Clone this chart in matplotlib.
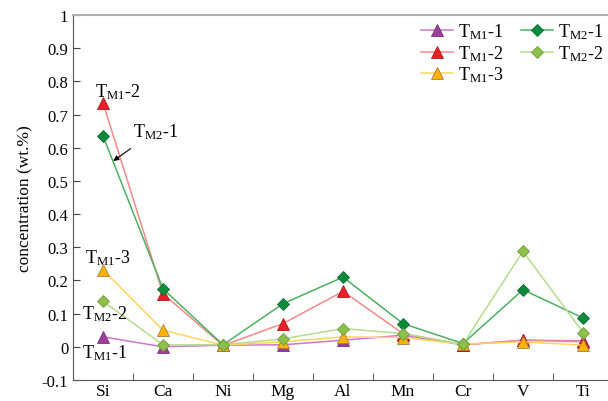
import matplotlib
matplotlib.use("Agg")
import matplotlib.pyplot as plt

plt.rcParams['font.family'] = ['Liberation Serif', 'DejaVu Serif']
plt.rcParams['mathtext.fontset'] = 'custom'
plt.rcParams['mathtext.rm'] = 'Liberation Serif'
plt.rcParams['mathtext.it'] = 'Liberation Serif:italic'

elements = ['Si', 'Ca', 'Ni', 'Mg', 'Al', 'Mn', 'Cr', 'V', 'Ti']
tm1_1 = [0.030, 0.000, 0.005, 0.006, 0.020, 0.035, 0.006, 0.020, 0.018]
tm1_2 = [0.735, 0.160, 0.004, 0.070, 0.167, 0.040, 0.006, 0.020, 0.015]
tm1_3 = [0.232, 0.050, 0.005, 0.015, 0.030, 0.028, 0.008, 0.015, 0.005]
tm2_1 = [0.636, 0.175, 0.006, 0.130, 0.210, 0.070, 0.010, 0.172, 0.087]
tm2_2 = [0.137, 0.006, 0.006, 0.024, 0.055, 0.040, 0.008, 0.288, 0.043]

labels = [r'T$_{\mathrm{M1}}$-1', r'T$_{\mathrm{M1}}$-2', r'T$_{\mathrm{M1}}$-3',
          r'T$_{\mathrm{M2}}$-1', r'T$_{\mathrm{M2}}$-2']

fig = plt.figure(figsize=(6.08, 4.02), dpi=100)
ax = fig.add_axes([73/608, 1 - 381/402, 540/608, (381 - 16)/402])

x = list(range(len(elements)))
series = [
    (tm1_1, labels[0], '^', '#9b3f9b', '#cc77cc', '#7a2f7a', 9),
    (tm1_2, labels[1], '^', '#e8202a', '#f08a8a', '#b01818', 9),
    (tm1_3, labels[2], '^', '#ffb300', '#ffd45e', '#a08040', 9),
    (tm2_1, labels[3], 'D', '#0e8a3c', '#4cb060', '#0a6a2c', 6.5),
    (tm2_2, labels[4], 'D', '#8dc04a', '#b5dc8e', '#6f9a38', 6.5),
]
handles = []
for vals, lab, m, fc, lc, ec, ms in series:
    h, = ax.plot(x, vals, color=lc, lw=1.1, marker=m, ms=ms, mfc=fc, mec=ec,
                 mew=0.6, label=lab)
    handles.append(h)

ax.set_xlim(-0.5, 8.5)
ax.set_ylim(-0.1, 1.0)
ax.set_yticks([-0.1, 0, 0.1, 0.2, 0.3, 0.4, 0.5, 0.6, 0.7, 0.8, 0.9, 1.0])
ax.set_yticklabels(['-0.1', '0', '0.1', '0.2', '0.3', '0.4', '0.5', '0.6', '0.7',
                    '0.8', '0.9', '1'])
ax.set_xticks(x)
ax.set_xticklabels(elements, fontsize=12.5)
ax.set_xticks([i + 0.5 for i in range(8)], minor=True)
ax.tick_params(axis='x', which='major', length=0, pad=2)
ax.tick_params(axis='x', which='minor', direction='in', length=5, color='#444444')
ax.tick_params(axis='y', direction='in', length=5, labelsize=12, color='#444444')
ax.set_ylabel('concentration (wt.%)', fontsize=12.5, labelpad=6)

ax.spines['top'].set_color('#b0b0b0')
ax.spines['top'].set_linewidth(1.5)
ax.spines['right'].set_visible(False)
ax.spines['left'].set_color('#555555')
ax.spines['bottom'].set_color('#555555')

leg = ax.legend(handles, labels, ncol=2, loc='upper left',
                bbox_to_anchor=(421/608, 1 - 22/402), bbox_transform=fig.transFigure,
                frameon=False, fontsize=13, handlelength=1.75, handletextpad=0.3,
                columnspacing=1.0, labelspacing=0.12, borderaxespad=0, borderpad=0)

ax.text(0.25, 0.77, labels[1], fontsize=13, ha='center', va='center')
ax.annotate(labels[3], xy=(0.17, 0.56), xytext=(0.87, 0.65), fontsize=13,
            ha='center', va='center',
            arrowprops=dict(arrowstyle='-|>', color='black', lw=0.8,
                            shrinkA=6, shrinkB=0, mutation_scale=8))
ax.text(0.07, 0.27, labels[2], fontsize=13, ha='center', va='center')
ax.text(0.03, 0.10, labels[4], fontsize=13, ha='center', va='center')
ax.text(0.03, -0.015, labels[0], fontsize=13, ha='center', va='center')

fig.savefig('out.png', dpi=100)
